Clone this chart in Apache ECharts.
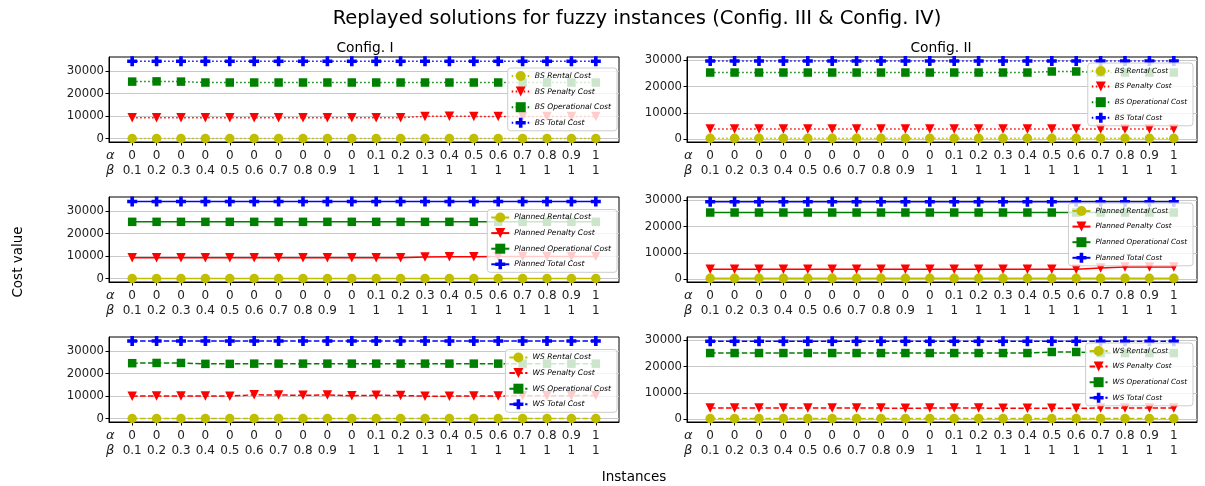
<!DOCTYPE html>
<html><head><meta charset="utf-8">
<script src="https://cdn.jsdelivr.net/npm/echarts@6/dist/echarts.min.js"></script>
<style>html,body{margin:0;padding:0;background:#fff}#c{width:1205px;height:486px}</style>
</head><body><div id="c"></div>
<script>
// ---- data ----
const alphaLabels = ['0','0','0','0','0','0','0','0','0','0','0.1','0.2','0.3','0.4','0.5','0.6','0.7','0.8','0.9','1'];
const betaLabels  = ['0.1','0.2','0.3','0.4','0.5','0.6','0.7','0.8','0.9','1','1','1','1','1','1','1','1','1','1','1'];
const yTickValues = [0, 10000, 20000, 30000];

// Config. I
const bsRental1 = [100,100,100,100,100,100,100,100,100,100,100,100,100,100,100,100,100,100,100,100];
const bsPenalty1 = [9300,9300,9300,9300,9300,9300,9300,9300,9300,9300,9300,9300,9900,10000,9900,9900,9900,9900,9900,9900];
const bsOperational1 = [25300,25400,25300,24900,24900,24900,24900,24900,24900,24900,24900,24900,24900,24900,24900,24900,24900,24900,24900,24900];
const bsTotal1 = [34300,34300,34300,34300,34300,34300,34300,34300,34300,34300,34300,34300,34300,34300,34300,34300,34300,34300,34300,34300];

const plRental1 = [100,100,100,100,100,100,100,100,100,100,100,100,100,100,100,100,100,100,100,100];
const plPenalty1 = [9300,9300,9300,9300,9300,9300,9300,9300,9300,9300,9300,9300,9600,9700,9700,9800,9800,9800,9800,9800];
const plOperational1 = [25200,25200,25200,25200,25200,25200,25200,25200,25200,25200,25200,25200,25200,25200,25200,25200,25200,25200,25200,25200];
const plTotal1 = [34200,34200,34200,34200,34200,34200,34200,34200,34200,34200,34200,34200,34200,34200,34200,34200,34200,34200,34200,34200];

const wsRental1 = [100,100,100,100,100,100,100,100,100,100,100,100,100,100,100,100,100,100,100,100];
const wsPenalty1 = [10000,10100,10100,10100,10000,10600,10500,10400,10500,10200,10400,10300,10000,10000,10100,10100,10200,10200,10200,10300];
const wsOperational1 = [24600,24700,24700,24300,24300,24400,24400,24400,24400,24400,24400,24400,24400,24400,24400,24400,24400,24400,24400,24400];
const wsTotal1 = [34400,34400,34400,34400,34400,34400,34400,34400,34400,34400,34400,34400,34400,34400,34400,34400,34400,34400,34400,34400];

// Config. II
const bsRental2 = [400,400,400,400,400,400,400,400,400,400,400,400,400,400,400,400,400,400,400,400];
const bsPenalty2 = [3900,3900,3900,3900,3900,3900,3900,3900,3900,3900,3900,3900,3900,3900,3900,3900,3900,3900,3900,3900];
const bsOperational2 = [25400,25400,25400,25400,25400,25400,25400,25400,25400,25400,25400,25400,25400,25400,25800,25800,25400,25400,25400,25400];
const bsTotal2 = [29800,29800,29800,29800,29800,29800,29800,29800,29800,29800,29800,29800,29800,29800,29800,29800,29800,29800,29800,29800];

const plRental2 = [400,400,400,400,400,400,400,400,400,400,400,400,400,400,400,400,400,400,400,400];
const plPenalty2 = [3800,3800,3800,3800,3800,3800,3800,3800,3800,3800,3800,3800,3800,3800,3800,3800,4300,4700,4700,4700];
const plOperational2 = [25400,25400,25400,25400,25400,25400,25400,25400,25400,25400,25400,25400,25400,25400,25400,25400,25400,25400,25400,25400];
const plTotal2 = [29500,29500,29500,29500,29500,29500,29500,29500,29500,29500,29500,29500,29500,29500,29500,29500,29500,29500,29500,29500];

const wsRental2 = [300,300,300,300,300,300,300,300,300,300,300,300,300,300,300,300,300,300,300,300];
const wsPenalty2 = [4300,4300,4300,4300,4300,4300,4300,4300,4200,4300,4300,4300,4200,4200,4200,4200,4300,4300,4300,4300];
const wsOperational2 = [25200,25200,25200,25200,25200,25200,25200,25200,25200,25200,25200,25200,25200,25200,25600,25600,25200,25200,25200,25200];
const wsTotal2 = [29700,29700,29700,29700,29700,29700,29700,29700,29700,29700,29700,29700,29700,29700,29700,29700,29700,29700,29700,29700];

// ---- build ----
const FONT = 'DejaVu Sans';
const plusPath = 'path://M3.2,0H6.8V3.2H10V6.8H6.8V10H3.2V6.8H0V3.2H3.2Z';
const colors = {rental:'#bfbf00', penalty:'#ff0000', operational:'#008000', total:'#0000ff'};
const dotted = [1.5, 2.5];
const dashed = [5.5, 2.4];

const panels = [
  {prefix:'BS', style:dotted, data:[bsRental1,bsPenalty1,bsOperational1,bsTotal1], col:0, row:0},
  {prefix:'BS', style:dotted, data:[bsRental2,bsPenalty2,bsOperational2,bsTotal2], col:1, row:0},
  {prefix:'Planned', style:'solid', data:[plRental1,plPenalty1,plOperational1,plTotal1], col:0, row:1},
  {prefix:'Planned', style:'solid', data:[plRental2,plPenalty2,plOperational2,plTotal2], col:1, row:1},
  {prefix:'WS', style:dashed, data:[wsRental1,wsPenalty1,wsOperational1,wsTotal1], col:0, row:2},
  {prefix:'WS', style:dashed, data:[wsRental2,wsPenalty2,wsOperational2,wsTotal2], col:1, row:2}
];
const colLeft = [109, 687];
const colWidth = 510;
const rowTop = [57, 197, 337];
const rowHeight = 85;
const yRange = [[-1450, 36200], [-1000, 31300]];
const legendPos = [
  {right:588, top:68}, {right:12, top:63},
  {right:588, top:209.5}, {right:12, top:203},
  {right:588, top:349.5}, {right:12, top:343}
];
const legendFont = [7.6, 7.2];

const grids = [], xAxes = [], yAxes = [], series = [], legends = [];
const idx = alphaLabels.map((_, i) => i);
const kinds = ['rental','penalty','operational','total'];
const kindNames = ['Rental Cost','Penalty Cost','Operational Cost','Total Cost'];
const symbols = [
  {symbol:'circle', size:9.5, rotate:0},
  {symbol:'triangle', size:9.5, rotate:180},
  {symbol:'rect', size:8.5, rotate:0},
  {symbol:plusPath, size:10, rotate:0}
];

panels.forEach((p, gi) => {
  grids.push({left:colLeft[p.col], top:rowTop[p.row], width:colWidth, height:rowHeight,
    show:true, borderColor:'#000', borderWidth:1, backgroundColor:'transparent', containLabel:false});
  xAxes.push({type:'value', gridIndex:gi, min:-0.95, max:19.95,
    axisLine:{show:true, onZero:false, lineStyle:{color:'#000', width:1}},
    axisTick:{show:true, customValues:idx, length:3.5, lineStyle:{color:'#000'}},
    axisLabel:{customValues:[-0.9].concat(idx), margin:6, color:'#222', fontFamily:FONT, fontSize:12, lineHeight:15,
      formatter: v => {
        if (v < 0) return '{g|α}\n{g|β}';
        const i = Math.round(v);
        return alphaLabels[i] + '\n' + betaLabels[i];
      },
      rich:{g:{fontStyle:'italic', fontFamily:FONT, fontSize:13, lineHeight:15, color:'#222'}}},
    splitLine:{show:false}});
  const yr = yRange[p.col];
  yAxes.push({type:'value', gridIndex:gi, min:yr[0], max:yr[1],
    axisLine:{show:true, onZero:false, lineStyle:{color:'#000', width:1}},
    axisTick:{show:true, customValues:yTickValues, length:3.5, lineStyle:{color:'#000'}},
    axisLabel:{customValues:yTickValues, margin:5, color:'#222', fontFamily:FONT, fontSize:11.7,
      formatter: v => String(Math.round(v))},
    splitLine:{show:true, lineStyle:{color:'#c8c8c8', width:1}}});
  const names = [];
  kinds.forEach((k, ki) => {
    const name = p.prefix + ' ' + kindNames[ki];
    names.push(name);
    series.push({type:'line', name:name, xAxisIndex:gi, yAxisIndex:gi,
      data: p.data[ki].map((v, i) => [i, v]),
      symbol:symbols[ki].symbol, symbolSize:symbols[ki].size, symbolRotate:symbols[ki].rotate,
      showAllSymbol:true, z:2 + ki * 0.1,
      lineStyle:{color:colors[k], width:1.5, type:p.style},
      itemStyle:{color:colors[k], opacity:1},
      emphasis:{disabled:true}, animation:false});
  });
  legends.push(Object.assign({orient:'vertical', data:names, selectedMode:false,
    itemWidth:18, itemHeight:12.5, itemGap:5.6, padding:[3,6,3,3],
    backgroundColor:'rgba(255,255,255,0.8)', borderColor:'#cccccc', borderWidth:1, borderRadius:3,
    textStyle:{fontSize:legendFont[p.col], fontStyle:'italic', fontFamily:FONT, color:'#000', lineHeight:10}, z:10}, legendPos[gi]));
});

const chart = echarts.init(document.getElementById('c'), null, {renderer:'canvas'});
chart.setOption({
  animation:false,
  title:[
    {text:'Replayed solutions for fuzzy instances (Config. III & Config. IV)', left:632, top:4, textAlign:'center',
      textStyle:{fontFamily:FONT, fontSize:19.5, fontWeight:'normal', color:'#000'}},
    {text:'Config. I', left:360, top:36, textAlign:'center',
      textStyle:{fontFamily:FONT, fontSize:13.8, fontWeight:'normal', color:'#000'}},
    {text:'Config. II', left:936, top:36, textAlign:'center',
      textStyle:{fontFamily:FONT, fontSize:13.8, fontWeight:'normal', color:'#000'}}
  ],
  graphic:[
    {type:'text', x:634, y:477, style:{text:'Instances', font:'13.5px "DejaVu Sans"', fill:'#000', align:'center', verticalAlign:'middle'}},
    {type:'text', x:18, y:262, rotation:Math.PI/2, style:{text:'Cost value', font:'13.5px "DejaVu Sans"', fill:'#000', align:'center', verticalAlign:'middle'}}
  ],
  grid:grids, xAxis:xAxes, yAxis:yAxes, legend:legends, series:series
});
</script></body></html>
